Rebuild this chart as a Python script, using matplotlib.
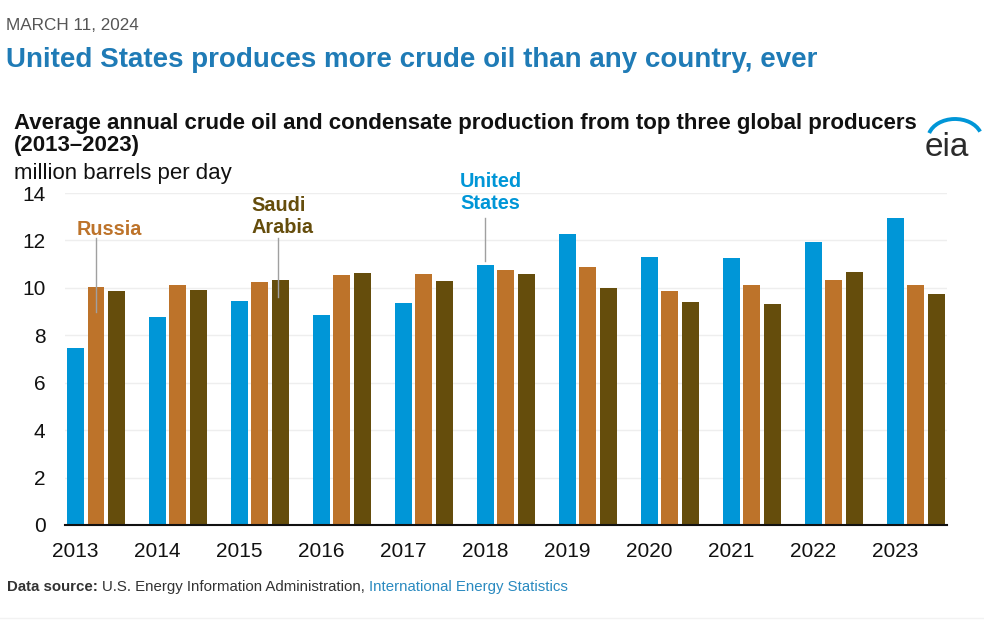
import matplotlib
matplotlib.use("Agg")
import matplotlib.pyplot as plt
from matplotlib.patches import Arc
import numpy as np

plt.rcParams['font.family'] = ['Liberation Sans', 'DejaVu Sans']

# datos (millones de barriles por dia)
years = ['2013', '2014', '2015', '2016', '2017', '2018',
         '2019', '2020', '2021', '2022', '2023']
united_states = [7.48, 8.79, 9.45, 8.86, 9.38, 10.97, 12.26, 11.32, 11.27, 11.92, 12.93]
russia = [10.05, 10.11, 10.25, 10.56, 10.60, 10.77, 10.87, 9.87, 10.12, 10.33, 10.12]
saudi_arabia = [9.87, 9.91, 10.35, 10.64, 10.30, 10.60, 9.98, 9.41, 9.32, 10.66, 9.73]

y_ticks = [0, 2, 4, 6, 8, 10, 12, 14]

c_us = '#0096d7'
c_ru = '#bd732a'
c_sa = '#654d0c'

fig = plt.figure(figsize=(9.84, 6.22), dpi=100)
ax = fig.add_axes([65/984, 1 - 525/622, (947 - 65)/984, (525 - 193)/622])

x = np.arange(len(years))
w = 0.207
step = 0.25
ax.bar(x, united_states, w, color=c_us, zorder=2)
ax.bar(x + step, russia, w, color=c_ru, zorder=2)
ax.bar(x + 2 * step, saudi_arabia, w, color=c_sa, zorder=2)

ax.set_xlim(-0.128, 10.63)
ax.set_ylim(0, 14)
ax.set_yticks(y_ticks)
ax.set_xticks(x)
ax.set_xticklabels(years)
ax.tick_params(axis='both', length=0, labelsize=15, colors='#111111')
ax.tick_params(axis='y', pad=14)
ax.tick_params(axis='x', pad=12)
ax.yaxis.grid(True, color='#eeeeee', linewidth=1, zorder=0)
ax.set_axisbelow(True)
for s in ['top', 'right', 'left']:
    ax.spines[s].set_visible(False)
ax.spines['bottom'].set_color('#111111')
ax.spines['bottom'].set_linewidth(1.5)
ax.spines['bottom'].set_zorder(3)

# etiquetas de las series
ax.text(0.018, 12.44, 'Russia', color=c_ru, fontsize=14.3, fontweight='bold',
        ha='left', va='center', clip_on=False)
ax.plot([0.25, 0.25], [12.1, 9.0], color='#a0a0a0', lw=1, zorder=4, clip_on=False)
ax.text(2.15, 13.01, 'Saudi\nArabia', color=c_sa, fontsize=14.3, fontweight='bold',
        ha='left', va='center', linespacing=1.15, clip_on=False)
ax.plot([2.47, 2.47], [12.1, 9.63], color='#a0a0a0', lw=1, zorder=4, clip_on=False)
ax.text(4.69, 14.02, 'United\nStates', color=c_us, fontsize=14.3, fontweight='bold',
        ha='left', va='center', linespacing=1.15, clip_on=False)
ax.plot([5.0, 5.0], [12.94, 11.15], color='#a0a0a0', lw=1, zorder=4, clip_on=False)

# textos del encabezado
def fy(py):
    return 1 - py / 622

fig.text(6/984, fy(25), 'MARCH 11, 2024', color='#555555', fontsize=12.3, va='center')
fig.text(6/984, fy(60), 'United States produces more crude oil than any country, ever',
         color='#1f7bb6', fontsize=20, fontweight='bold', va='center')
fig.text(14/984, fy(134.5), 'Average annual crude oil and condensate production from top three global producers\n(2013\u20132023)',
         color='#111111', fontsize=16, fontweight='bold', va='center', linespacing=1.02)
fig.text(14/984, fy(173), 'million barrels per day', color='#111111', fontsize=16, va='center')

# logo eia
fig.text(947/984, fy(147), 'eia', color='#2b2b2b', fontsize=24, ha='center', va='center')
fig.patches.append(Arc((955/984, fy(139)), 54/984, 40/622, theta1=25, theta2=160,
                       color=c_us, lw=2.8, transform=fig.transFigure, figure=fig))

# pie de pagina
renderer = fig.canvas.get_renderer()
px = 7
parts = [('Data source: ', 'bold', '#333333'),
         ('U.S. Energy Information Administration, ', 'normal', '#333333'),
         ('International Energy Statistics', 'normal', '#2a8ac0')]
for txt, wt, col in parts:
    t = fig.text(px/984, fy(587), txt, color=col, fontsize=10.8, fontweight=wt, va='center')
    bb = t.get_window_extent(renderer=renderer)
    px += bb.width

fig.add_artist(plt.Line2D([0, 1], [fy(618), fy(618)], color='#f2f2f2', lw=1,
                          transform=fig.transFigure))

fig.savefig('out.png', dpi=100)
